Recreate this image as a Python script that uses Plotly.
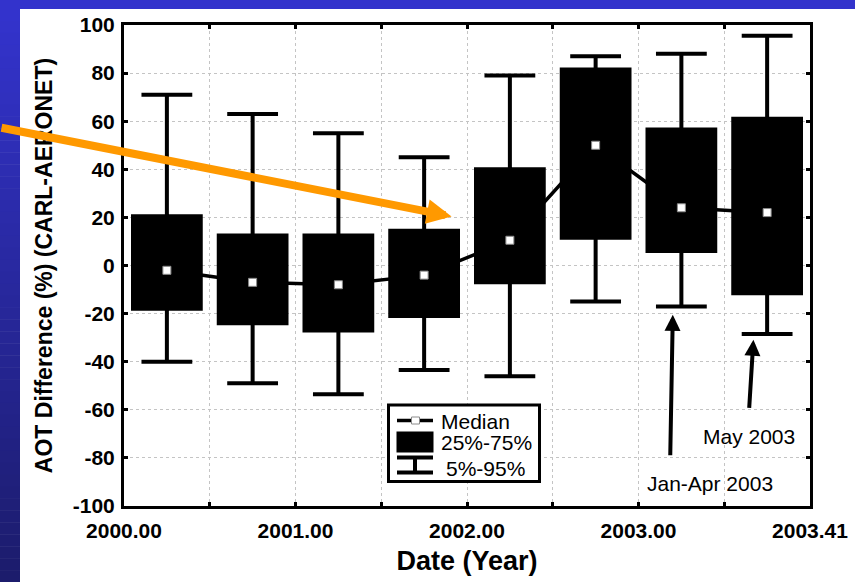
import plotly.graph_objects as go

# ---- data: AOT difference statistics per period ----
periods = ["2000 H1", "2000 H2", "2001 H1", "2001 H2",
           "2002 H1", "2002 H2", "Jan-Apr 2003", "May 2003"]
p95 = [71, 63, 55, 45, 79, 87, 88, 95.5]
p75 = [20.5, 12.5, 12.5, 14.5, 40, 81.5, 56.5, 61]
median = [-2, -7, -8, -4, 10.5, 50, 24, 22]
p25 = [-18, -24, -27, -21, -7, 11.5, 6, -11.5]
p5 = [-40, -49, -53.5, -43.5, -46, -15, -17, -28.5]

x_tick_vals = [0, 1, 2, 3, 4, 5, 6, 7, 8]
x_tick_text = ["2000.00", "", "2001.00", "", "2002.00", "", "2003.00", "", "2003.41"]
y_tick_vals = [-100, -80, -60, -40, -20, 0, 20, 40, 60, 80, 100]
y_tick_text = ["-100", "-80", "-60", "-40", "-20", "0", "20", "40", "60", "80", "100"]

positions = [i + 0.5 for i in range(len(periods))]

FONT = "Liberation Sans, Arial, sans-serif"
W, H = 855, 582
L, R, T, B = 124, 810, 25, 506


def px(xp):
    return (xp - L) / (R - L)


def py(yp):
    return (B - yp) / (B - T)


fig = go.Figure()

# median connecting line (underneath the boxes)
fig.add_trace(go.Scatter(
    x=positions, y=median, mode="lines",
    line=dict(color="black", width=3.5),
    hoverinfo="skip", showlegend=False, xaxis="x", yaxis="y"))

# boxes: 25-75% body, 5-95% whiskers with caps
fig.add_trace(go.Box(
    x=positions, q1=p25, median=median, q3=p75,
    lowerfence=p5, upperfence=p95,
    width=0.79, whiskerwidth=0.75,
    fillcolor="black", line=dict(color="black", width=4),
    boxpoints=False, showlegend=False, xaxis="x2", yaxis="y2",
    text=periods, hoverinfo="y+text"))

# median markers on top of boxes
fig.add_trace(go.Scatter(
    x=positions, y=median, mode="markers",
    marker=dict(symbol="square", size=8, color="white",
                line=dict(color="#8a8a8a", width=1)),
    showlegend=False, xaxis="x2", yaxis="y2", text=periods,
    hoverinfo="y+text"))

axis_common = dict(
    showline=True, linecolor="black", linewidth=3, mirror="ticks",
    ticks="inside", ticklen=4, tickwidth=3, tickcolor="black",
    showgrid=True, gridcolor="#c4c4c4", gridwidth=1, griddash="dot",
    zeroline=False, automargin=False,
    tickfont=dict(family=FONT, size=21, color="black", weight="bold"),
)

fig.update_layout(
    width=W, height=H,
    margin=dict(l=L, r=W - R, t=T, b=H - B),
    paper_bgcolor="white", plot_bgcolor="white",
    showlegend=False,
    xaxis=dict(axis_common, range=[0, 8], tickvals=x_tick_vals, ticktext=x_tick_text,
               ticklabelstandoff=4,
               title=dict(text="Date (Year)", standoff=10,
                          font=dict(family=FONT, size=27, color="black", weight="bold"))),
    yaxis=dict(axis_common, range=[-100, 100], tickvals=y_tick_vals, ticktext=y_tick_text,
               ticklabelstandoff=2,
               title=dict(text="AOT Difference (%) (CARL-AERONET)", standoff=14,
                          font=dict(family=FONT, size=23, color="black", weight="bold"))),
    xaxis2=dict(overlaying="x", range=[0, 8], visible=False, showgrid=False),
    yaxis2=dict(overlaying="y", range=[-100, 100], visible=False, showgrid=False),
)

# slide background: blue top band and left gradient band
shapes = []
shapes.append(dict(type="rect", xref="paper", yref="paper", layer="below",
                   x0=px(0), x1=px(W), y0=py(9), y1=py(0),
                   fillcolor="#3333cc", line=dict(width=0)))
n_bands = 48
c0, c1 = (51, 51, 204), (28, 28, 108)
for i in range(n_bands):
    t = i / (n_bands - 1)
    col = tuple(round(a + (b - a) * t) for a, b in zip(c0, c1))
    y_top = 9 + (H - 9) * i / n_bands
    y_bot = 9 + (H - 9) * (i + 1) / n_bands
    shapes.append(dict(type="rect", xref="paper", yref="paper", layer="below",
                       x0=px(0), x1=px(20), y0=py(y_bot + 0.5), y1=py(y_top),
                       fillcolor="rgb(%d,%d,%d)" % col, line=dict(width=0)))

# hand-drawn key
shapes.append(dict(type="rect", xref="paper", yref="paper", layer="above",
                   x0=px(388.5), x1=px(539.5), y0=py(481.5), y1=py(405),
                   fillcolor="white", line=dict(color="black", width=3)))
shapes.append(dict(type="line", xref="paper", yref="paper",
                   x0=px(397), x1=px(433), y0=py(420.5), y1=py(420.5),
                   line=dict(color="black", width=3.5)))
shapes.append(dict(type="rect", xref="paper", yref="paper",
                   x0=px(411.5), x1=px(419.5), y0=py(424), y1=py(417),
                   fillcolor="white", line=dict(color="#8a8a8a", width=1)))
shapes.append(dict(type="rect", xref="paper", yref="paper",
                   x0=px(398), x1=px(432), y0=py(451), y1=py(433),
                   fillcolor="black", line=dict(color="black", width=3)))
shapes.append(dict(type="line", xref="paper", yref="paper",
                   x0=px(397), x1=px(433), y0=py(457.5), y1=py(457.5),
                   line=dict(color="black", width=4)))
shapes.append(dict(type="line", xref="paper", yref="paper",
                   x0=px(397), x1=px(433), y0=py(472.5), y1=py(472.5),
                   line=dict(color="black", width=4)))
shapes.append(dict(type="line", xref="paper", yref="paper",
                   x0=px(415), x1=px(415), y0=py(472.5), y1=py(457.5),
                   line=dict(color="black", width=4)))
fig.update_layout(shapes=shapes)

key_font = dict(family=FONT, size=21, color="black")
note_font = dict(family=FONT, size=21, color="black")
annotations = [
    dict(xref="paper", yref="paper", x=px(439), y=py(421), text="Median",
         xanchor="left", yanchor="middle", showarrow=False, font=key_font),
    dict(xref="paper", yref="paper", x=px(439), y=py(443), text="25%-75%",
         xanchor="left", yanchor="middle", showarrow=False, font=key_font),
    dict(xref="paper", yref="paper", x=px(444), y=py(468), text="5%-95%",
         xanchor="left", yanchor="middle", showarrow=False, font=key_font),
    # period notes with arrows
    dict(xref="x", yref="y", x=6.83, y=-90.5, text="Jan-Apr 2003",
         showarrow=False, font=note_font),
    dict(xref="x", yref="y", x=7.29, y=-71.2, text="May 2003",
         showarrow=False, font=note_font),
    dict(xref="x", yref="y", x=6.40, y=-20.5, axref="x", ayref="y",
         ax=6.37, ay=-79.5, text="", showarrow=True, arrowhead=2,
         arrowwidth=4, arrowsize=0.8, arrowcolor="black"),
    dict(xref="x", yref="y", x=7.34, y=-30.9, axref="x", ayref="y",
         ax=7.29, ay=-59.8, text="", showarrow=True, arrowhead=2,
         arrowwidth=4, arrowsize=0.8, arrowcolor="black"),
    # orange pointer toward the 2002 rise
    dict(xref="x", yref="y", x=3.82, y=20.4, ax=-452, ay=-89, text="",
         showarrow=True, arrowhead=2, arrowwidth=8, arrowsize=0.62,
         arrowcolor="#ff9900"),
]
fig.update_layout(annotations=annotations)

fig.write_html("out.html", config={"displayModeBar": False})
